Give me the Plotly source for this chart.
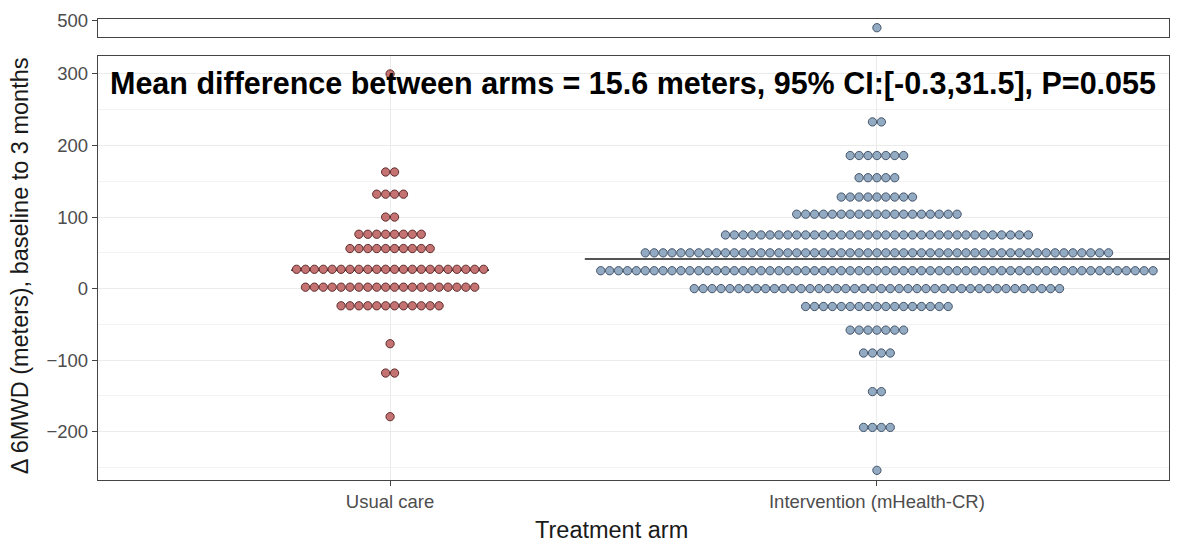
import plotly.graph_objects as go

# Treatment arms and their positions on the categorical x axis
arms = ["Usual care", "Intervention (mHealth-CR)"]
arm_pos = [1, 2]

# Dot-plot rows: binned change in 6MWD (m) and number of patients per bin
uc_values = [300, 163, 132, 100, 76, 56, 27, 2, -24, -77, -118, -179]
uc_counts = [1, 2, 4, 2, 8, 10, 22, 20, 12, 1, 2, 1]

int_values = [490, 233, 186, 155, 128, 104, 75, 50, 25, 0, -25, -58, -90, -144, -194, -254]
int_counts = [1, 2, 7, 5, 9, 19, 35, 53, 63, 42, 17, 7, 4, 2, 4, 1]

# Arm means (difference = 15.6 m)
arm_means = [25.8, 41.4]

annotation_text = "Mean difference between arms = 15.6 meters, 95% CI:[-0.3,31.5], P=0.055"

# Values above this go to the upper (broken-axis) panel
BREAK = 400
STEP = 0.0183          # horizontal spacing between stacked dots (x units)
MEAN_HALF = [0.203, 0.6]  # half-length of each mean line (x units)

UC_FILL, UC_EDGE = "#c47272", "#5e2c2c"
INT_FILL, INT_EDGE = "#92abc3", "#44546a"
FONT = "Liberation Sans, Arial, sans-serif"


def stack(pos, values, counts, upper):
    xs, ys = [], []
    for v, n in zip(values, counts):
        if (v > BREAK) != upper:
            continue
        for i in range(n):
            xs.append(pos + (i - (n - 1) / 2) * STEP)
            ys.append(v)
    return xs, ys


fig = go.Figure()

# Mean lines (drawn under the dots)
for pos, m, hw in zip(arm_pos, arm_means, MEAN_HALF):
    fig.add_trace(go.Scatter(
        x=[pos - hw, pos + hw], y=[m, m], mode="lines",
        line=dict(color="#1a1a1a", width=1.6),
        hoverinfo="skip", showlegend=False, xaxis="x", yaxis="y"))

groups = [
    (arm_pos[0], uc_values, uc_counts, UC_FILL, UC_EDGE),
    (arm_pos[1], int_values, int_counts, INT_FILL, INT_EDGE),
]

for pos, vals, cnts, fill, edge in groups:
    for upper, xa, ya in [(False, "x", "y"), (True, "x2", "y2")]:
        xs, ys = stack(pos, vals, cnts, upper)
        if not xs:
            continue
        fig.add_trace(go.Scatter(
            x=xs, y=ys, mode="markers",
            marker=dict(size=8.3, color=fill, line=dict(color=edge, width=1)),
            showlegend=False, xaxis=xa, yaxis=ya, cliponaxis=False))

axis_line = dict(showline=True, mirror=True, linecolor="#444444", linewidth=1.3)
tick_font = dict(family=FONT, size=18.5, color="#4d4d4d")

fig.update_layout(
    width=1177, height=550,
    margin=dict(l=98, r=8, t=19, b=70),
    paper_bgcolor="white", plot_bgcolor="white",
    font=dict(family=FONT),
    xaxis=dict(
        domain=[0, 1], range=[0.4, 2.6], anchor="y",
        tickmode="array", tickvals=arm_pos, ticktext=arms,
        ticks="outside", ticklen=5, tickcolor="#444444",
        showgrid=True, gridcolor="#ebebeb", gridwidth=1, zeroline=False,
        tickfont=tick_font, **axis_line),
    yaxis=dict(
        domain=[0, 0.9197], range=[-267.5, 325.1], anchor="x",
        tickmode="array", tickvals=[-200, -100, 0, 100, 200, 300],
        ticks="outside", ticklen=5, tickcolor="#444444",
        showgrid=True, gridcolor="#ebebeb", gridwidth=1, zeroline=False,
        minor=dict(tickmode="array", tickvals=[-250, -150, -50, 50, 150, 250],
                   showgrid=True, gridcolor="#f3f3f3", gridwidth=1, ticks=""),
        tickfont=tick_font, **axis_line),
    xaxis2=dict(
        domain=[0, 1], range=[0.4, 2.6], anchor="y2", matches="x",
        showticklabels=False, ticks="", showgrid=False, zeroline=False, **axis_line),
    yaxis2=dict(
        domain=[0.9616, 1], range=[477.6, 502], anchor="x2",
        tickmode="array", tickvals=[500],
        ticks="outside", ticklen=5, tickcolor="#444444",
        showgrid=False, zeroline=False, tickfont=tick_font, **axis_line),
    annotations=[
        dict(text=annotation_text, xref="paper", yref="paper",
             x=0.4995, y=0.861, xanchor="center", yanchor="middle", showarrow=False,
             font=dict(family=FONT, size=30.5, color="black", weight="bold")),
        dict(text="Δ 6MWD (meters), baseline to 3 months", xref="paper", yref="paper",
             x=-0.0728, y=0.464, xanchor="center", yanchor="middle", showarrow=False,
             textangle=-90,
             font=dict(family=FONT, size=23.5, color="#1a1a1a")),
        dict(text="Treatment arm", xref="paper", yref="paper",
             x=0.479, y=-0.1085, xanchor="center", yanchor="middle", showarrow=False,
             font=dict(family=FONT, size=23.5, color="#1a1a1a")),
    ],
)

fig.write_html("out.html")
